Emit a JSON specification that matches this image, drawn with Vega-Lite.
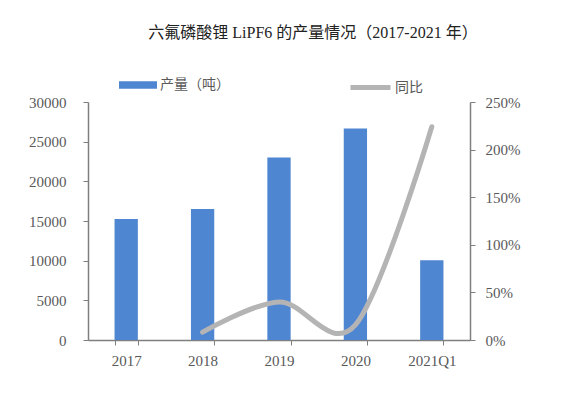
{
  "$schema": "https://vega.github.io/schema/vega-lite/v6.json",
  "autosize": {"type": "none"},
  "width": 382,
  "height": 238,
  "padding": {"left": 88, "top": 102, "right": 106, "bottom": 59},
  "background": "white",
  "config": {"view": {"stroke": null}},
  "title": {
    "text": "六氟磷酸锂 LiPF6 的产量情况（2017-2021 年）",
    "font": "Liberation Serif, Noto Sans CJK SC",
    "fontSize": 16,
    "fontWeight": "normal",
    "color": "#222222",
    "anchor": "middle",
    "frame": "group",
    "offset": 24,
    "dx": 34
  },
  "data": {
    "values": [
      {"year": "2017", "output": 15250, "yoy": null},
      {"year": "2018", "output": 16500, "yoy": 0.082},
      {"year": "2019", "output": 23000, "yoy": 0.40},
      {"year": "2020", "output": 26650, "yoy": 0.159},
      {"year": "2021Q1", "output": 10050, "yoy": 2.24}
    ]
  },
  "encoding": {
    "x": {
      "field": "year",
      "type": "nominal",
      "sort": null,
      "scale": {"paddingInner": 0.695, "paddingOuter": 0.3475},
      "axis": {
        "title": null,
        "labelAngle": 0,
        "tickBand": "extent",
        "tickSize": 5,
        "tickColor": "#7f7f7f",
        "domainColor": "#7f7f7f",
        "domainWidth": 1.5,
        "labelFont": "Liberation Serif",
        "labelFontSize": 15,
        "labelColor": "#595959",
        "labelPadding": 8
      }
    }
  },
  "layer": [
    {
      "mark": {"type": "bar"},
      "encoding": {
        "y": {
          "field": "output",
          "type": "quantitative",
          "scale": {"domain": [0, 30000]},
          "axis": {
            "title": null,
            "format": "d",
            "values": [0, 5000, 10000, 15000, 20000, 25000, 30000],
            "grid": false,
            "tickSize": 5,
            "tickColor": "#7f7f7f",
            "domainColor": "#7f7f7f",
            "domainWidth": 1.5,
            "labelFont": "Liberation Serif",
            "labelFontSize": 15,
            "labelColor": "#595959",
            "labelPadding": 17
          }
        },
        "color": {
          "datum": "产量（吨）",
          "scale": {"range": ["#4F86D1"]},
          "legend": {
            "title": null,
            "orient": "none",
            "legendX": 30,
            "legendY": -37,
            "symbolType": "M-1,-0.2H1V0.2H-1Z",
            "symbolSize": 1444,
            "labelFont": "Noto Sans CJK SC",
            "labelFontSize": 14,
            "labelColor": "#595959",
            "labelOffset": 2
          }
        }
      }
    },
    {
      "mark": {"type": "line", "interpolate": "cardinal", "tension": 0, "strokeWidth": 5, "strokeCap": "round"},
      "encoding": {
        "y": {
          "field": "yoy",
          "type": "quantitative",
          "scale": {"domain": [0, 2.5]},
          "axis": {
            "title": null,
            "orient": "right",
            "format": ".0%",
            "values": [0, 0.5, 1, 1.5, 2, 2.5],
            "grid": false,
            "tickSize": 5,
            "tickColor": "#7f7f7f",
            "domainColor": "#7f7f7f",
            "domainWidth": 1.5,
            "labelFont": "Liberation Serif",
            "labelFontSize": 15,
            "labelColor": "#595959",
            "labelPadding": 10
          }
        },
        "stroke": {
          "datum": "同比",
          "scale": {"range": ["#B4B4B4"]},
          "legend": {
            "title": null,
            "orient": "none",
            "legendX": 260,
            "legendY": -37,
            "symbolType": "stroke",
            "symbolSize": 1600,
            "symbolStrokeWidth": 5,
            "labelFont": "Noto Sans CJK SC",
            "labelFontSize": 14,
            "labelColor": "#595959",
            "labelOffset": 2
          }
        }
      }
    }
  ],
  "resolve": {"scale": {"y": "independent"}}
}
